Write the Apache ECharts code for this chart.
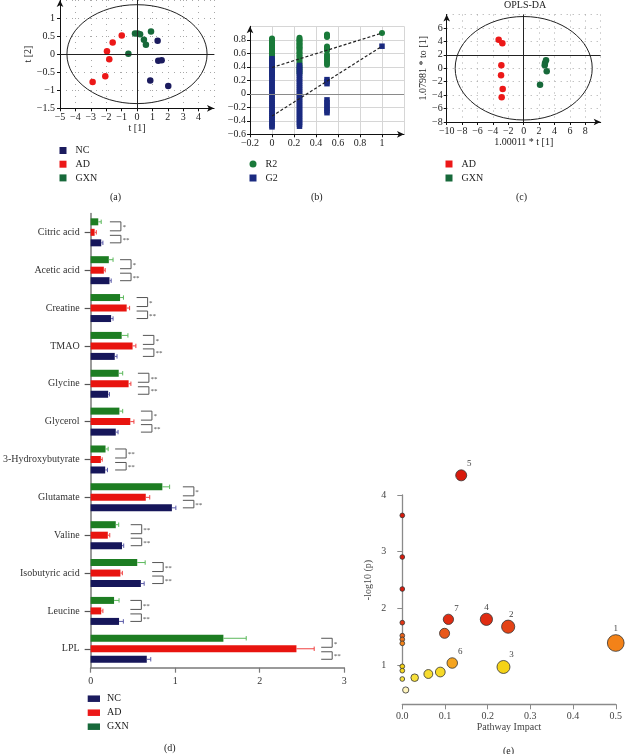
<!DOCTYPE html>
<html><head><meta charset="utf-8">
<script src="https://cdn.jsdelivr.net/npm/echarts@6/dist/echarts.min.js"></script>
<style>html,body{margin:0;padding:0;background:#fff}#c{width:625px;height:754px}</style>
</head><body><div id="c"></div>
<script>
// ---------- (a) PCA score plot ----------
const pcaNC  = [[1.34,0.37],[1.38,-0.18],[1.60,-0.17],[0.86,-0.73],[2.03,-0.88]];
const pcaAD  = [[-0.99,0.52],[-1.58,0.32],[-1.95,0.08],[-1.80,-0.14],[-2.06,-0.61],[-2.88,-0.77]];
const pcaGXN = [[-0.13,0.57],[0.05,0.57],[0.20,0.55],[0.91,0.63],[0.45,0.40],[0.58,0.26],[-0.56,0.01]];
const pcaEllipse = [0, 0, 4.55, 1.37];           // centre x, centre y, semi-axis x, semi-axis y

// ---------- (b) permutation test ----------
const permX = [0, 0.25, 0.5, 1];
const r2Perm = [
  [0.82,0.80,0.78,0.76,0.74,0.72,0.70,0.68,0.66,0.64,0.62,0.60,0.58,0.56,0.53,0.50,0.47,0.44,0.41,0.37,0.33,0.30,0.27],
  [0.83,0.81,0.79,0.77,0.75,0.73,0.71,0.69,0.67,0.65,0.62,0.60,0.57,0.55,0.52,0.49,0.46,0.43,0.40,0.37,0.34,0.31],
  [0.88,0.86,0.84,0.70,0.68,0.66,0.64,0.58,0.55,0.52,0.49,0.46,0.43],
  [0.90]
];
const q2Perm = [
  [0.52,0.49,0.46,0.43,0.40,0.37,0.34,0.31,0.28,0.25,0.22,0.19,0.16,0.13,0.10,0.07,0.04,0.01,-0.02,-0.05,-0.08,-0.11,-0.14,-0.17,-0.20,-0.23,-0.26,-0.29,-0.32,-0.35,-0.38,-0.41,-0.44,-0.47,-0.49],
  [0.42,0.39,0.36,0.33,0.30,0.27,0.24,0.21,0.18,0.15,0.12,0.09,0.06,0.03,0.00,-0.03,-0.06,-0.09,-0.12,-0.15,-0.18,-0.21,-0.24,-0.27,-0.30,-0.33,-0.36,-0.39,-0.42,-0.45,-0.48],
  [0.21,0.18,0.15,-0.09,-0.13,-0.17,-0.21,-0.25,-0.28],
  [0.705]
];
const r2Fit = [[0, 0.39], [1, 0.90]];
const q2Fit = [[0, -0.33], [1, 0.705]];

// ---------- (c) OPLS-DA ----------
const oplsAD  = [[-3.25,4.26],[-2.77,3.72],[-2.90,0.45],[-2.94,-1.05],[-2.73,-3.10],[-2.86,-4.33]];
const oplsGXN = [[2.90,1.19],[2.77,0.80],[2.73,0.45],[2.99,-0.45],[2.12,-2.47]];
const oplsEllipse = [0, 0, 8.9, 7.7];
const oplsHLine = 2;

// ---------- (d) metabolite levels ----------
const metabolites = ['Citric acid','Acetic acid','Creatine','TMAO','Glycine','Glycerol','3-Hydroxybutyrate','Glutamate','Valine','Isobutyric acid','Leucine','LPL'];
const ncMean  = [0.125,0.223,0.242,0.285,0.207,0.297,0.172,0.961,0.371,0.594,0.336,0.664];
const ncErr   = [0.020,0.020,0.023,0.027,0.016,0.027,0.027,0.047,0.020,0.039,0.051,0.047];
const adMean  = [0.047,0.156,0.426,0.496,0.449,0.469,0.121,0.652,0.203,0.352,0.125,2.434];
const adErr   = [0.020,0.016,0.035,0.039,0.027,0.043,0.016,0.047,0.023,0.023,0.020,0.210];
const gxnMean = [0.090,0.215,0.348,0.367,0.332,0.340,0.176,0.848,0.297,0.551,0.277,1.570];
const gxnErr  = [0.035,0.050,0.040,0.074,0.047,0.039,0.031,0.086,0.035,0.094,0.059,0.270];
const sigGxnAd = ['*','*','*','*','**','*','**','*','**','**','**','*'];
const sigAdNc  = ['**','**','**','**','**','**','**','**','**','**','**','**'];

// ---------- (e) pathway analysis ----------
const impact = [0.138,0,0,0,0,0,0,0,0,0,0,0.008,0.029,0.061,0.089,0.117,0.099,0.108,0.197,0.248,0.237,0.5];
const logP   = [4.347,3.64,2.906,2.341,1.747,1.518,1.453,1.382,0.976,0.90,0.753,0.559,0.776,0.841,0.876,1.035,1.559,1.806,1.806,1.676,0.965,1.388];
const pathLabel = ['5','','','','','','','','','','','','','','','6','','7','4','2','3','1'];

// ---------- styling ----------
const serif = 'Liberation Serif';
const NAVY = '#1b1b5e', RED = '#ec1818', GREEN = '#17693a';
const BNAVY = '#16165a', BRED = '#e8140f', BGREEN = '#1d7d22';
const ENAVY = '#5a5aa8', ERED = '#f04040', EGREEN = '#5cb85c';
const minus = v => String(+(+v).toFixed(2)).replace('-', '\u2212');

function sciAxis(gi, min, max, interval, extra) {
  return Object.assign({
    gridIndex: gi, type: 'value', min, max, interval,
    axisLine: { show: true, onZero: false, lineStyle: { color: '#111', width: 1 }, symbol: ['none', 'arrow'], symbolSize: [5, 7] },
    axisTick: { show: true, length: 3, lineStyle: { color: '#111' } },
    axisLabel: { fontSize: 10, fontFamily: serif, color: '#222', formatter: minus, showMaxLabel: false, margin: 4 },
    splitLine: { show: true, lineStyle: { color: '#a8a8a8', type: [1, 5], width: 1 } },
    nameTextStyle: { fontSize: 10, fontFamily: serif, color: '#222' }
  }, extra || {});
}

function ellipseSeries(gi, e) {
  return {
    type: 'custom', xAxisIndex: gi, yAxisIndex: gi, data: [e], silent: true, z: 2, clip: false,
    renderItem: (p, api) => {
      const c = api.coord([api.value(0), api.value(1)]);
      const s = api.size([api.value(2), api.value(3)]);
      return { type: 'ellipse', shape: { cx: c[0], cy: c[1], rx: s[0], ry: s[1] }, style: { fill: 'none', stroke: '#222', lineWidth: 1 } };
    }
  };
}
function crossLines(xv, yv) {
  return { silent: true, symbol: 'none', animation: false, label: { show: false },
    lineStyle: { color: '#222', type: 'solid', width: 1 }, emphasis: { disabled: true },
    data: [{ xAxis: xv }, { yAxis: yv }] };
}

// (d) bar offsets (px) inside the category band
const BAR_W = 7, BAR_STEP = 10.5;
const offGXN = -BAR_STEP, offAD = 0, offNC = BAR_STEP;
function errSeries(mean, err, off, col) {
  return {
    type: 'custom', xAxisIndex: 3, yAxisIndex: 3, silent: true, z: 4,
    data: mean.map((m, i) => [m, i, err[i]]), encode: { x: 0, y: 1 },
    renderItem: (p, api) => {
      const v = api.value(0), ci = api.value(1), e = api.value(2);
      const a = api.coord([v, ci]), b = api.coord([v + e, ci]);
      const y = a[1] + off;
      return { type: 'group', children: [
        { type: 'line', shape: { x1: a[0], y1: y, x2: b[0], y2: y }, style: { stroke: col, lineWidth: 1 } },
        { type: 'line', shape: { x1: b[0], y1: y - 2.2, x2: b[0], y2: y + 2.2 }, style: { stroke: col, lineWidth: 1 } }
      ] };
    }
  };
}
const maxEnd = metabolites.map((_, i) => Math.max(ncMean[i] + ncErr[i], adMean[i] + adErr[i], gxnMean[i] + gxnErr[i]));

function heat(y) {
  const stops = [[0.55,[255,246,196]],[0.75,[248,226,64]],[0.98,[245,210,20]],[1.04,[245,160,32]],[1.39,[243,130,24]],[1.56,[232,88,26]],[1.8,[224,44,18]],[2.3,[216,26,12]],[5,[216,26,12]]];
  if (y <= stops[0][0]) return 'rgb(' + stops[0][1].join(',') + ')';
  for (let k = 1; k < stops.length; k++) {
    if (y <= stops[k][0]) {
      const t = (y - stops[k-1][0]) / (stops[k][0] - stops[k-1][0]);
      const c = stops[k-1][1].map((v, j) => Math.round(v + t * (stops[k][1][j] - v)));
      return 'rgb(' + c.join(',') + ')';
    }
  }
  return 'rgb(216,26,12)';
}
const labelDx = { '1': 0, '2': 3, '3': 8, '4': 0, '5': 8, '6': 8, '7': 8 };

const chart = echarts.init(document.getElementById('c'), null, { renderer: 'canvas', width: 625, height: 754 });

const option = {
  animation: false,
  backgroundColor: '#fff',
  textStyle: { fontFamily: serif },
  grid: [
    { left: 60, top: -1, width: 154, height: 109.3 },
    { left: 250, top: 26.3, width: 154, height: 108 },
    { left: 446.7, top: 14.5, width: 154, height: 107.5 },
    { left: 87.7, top: 213.4, width: 256.6, height: 454.3 },
    { left: 402.3, top: 495, width: 214.4, height: 170 }
  ],
  xAxis: [
    sciAxis(0, -5, 5, 1, { name: 't [1]', nameLocation: 'middle', nameGap: 14 }),
    sciAxis(1, -0.2, 1.2, 0.2, { splitLine: { show: true, lineStyle: { color: '#d6d6d6', width: 1 } } }),
    sciAxis(2, -10, 10, 2, { name: '1.00011 * t [1]', nameLocation: 'middle', nameGap: 13.5 }),
    { gridIndex: 3, type: 'value', min: 0, max: 3, interval: 1,
      axisLine: { show: true, lineStyle: { color: '#7a7a7a', width: 1.5 } },
      axisTick: { show: true, length: 5, lineStyle: { color: '#7a7a7a', width: 1.2 } },
      axisLabel: { fontSize: 10, fontFamily: serif, color: '#333', margin: 9 },
      splitLine: { show: false } },
    { gridIndex: 4, type: 'value', min: 0, max: 0.5, interval: 0.1, offset: 39.3,
      axisLine: { show: true, lineStyle: { color: '#8a8a8a', width: 1.3 } },
      axisTick: { show: true, length: 5, lineStyle: { color: '#8a8a8a' } },
      axisLabel: { fontSize: 10, fontFamily: serif, color: '#444', margin: 7, formatter: v => v.toFixed(1) },
      splitLine: { show: false },
      name: 'Pathway Impact', nameLocation: 'middle', nameGap: 18,
      nameTextStyle: { fontSize: 10, fontFamily: serif, color: '#444' } }
  ],
  yAxis: [
    sciAxis(0, -1.5, 1.5, 0.5, { name: 't [2]', nameLocation: 'middle', nameGap: 23, axisLabel: { fontSize: 10, fontFamily: serif, color: '#222', formatter: minus, showMaxLabel: false, margin: 5 } }),
    sciAxis(1, -0.6, 1.0, 0.2, { splitLine: { show: true, lineStyle: { color: '#d6d6d6', width: 1 } } }),
    sciAxis(2, -8, 8, 2, { name: '1.07981 * to [1]', nameLocation: 'middle', nameGap: 18 }),
    { gridIndex: 3, type: 'category', data: metabolites, inverse: true,
      axisLine: { show: true, lineStyle: { color: '#7a7a7a', width: 1.5 } },
      axisTick: { show: true, alignWithLabel: true, length: 6, lineStyle: { color: '#555', width: 1.2 } },
      axisLabel: { fontSize: 10, fontFamily: serif, color: '#333', margin: 11 } },
    { gridIndex: 4, type: 'value', min: 1, max: 4, interval: 1, offset: 9,
      axisLine: { show: true, lineStyle: { color: '#8a8a8a', width: 1.3 } },
      axisTick: { show: true, length: 5, lineStyle: { color: '#8a8a8a' } },
      axisLabel: { fontSize: 10, fontFamily: serif, color: '#444', margin: 7 },
      splitLine: { show: false },
      name: '-log10 (p)', nameLocation: 'middle', nameGap: 20,
      nameTextStyle: { fontSize: 10, fontFamily: serif, color: '#444' } }
  ],
  legend: [
    { data: [{ name: 'NC', icon: 'rect' }, { name: 'AD', icon: 'rect' }, { name: 'GXN', icon: 'rect' }],
      orient: 'vertical', left: 59.5, top: 145.5, itemWidth: 7, itemHeight: 7, itemGap: 3.7, padding: 0, selectedMode: false,
      textStyle: { fontSize: 10, lineHeight: 10, fontFamily: serif, color: '#222', padding: [0, 0, 0, 4] } },
    { data: [{ name: 'R2', icon: 'circle' }, { name: 'G2', icon: 'rect' }],
      orient: 'vertical', left: 249.5, top: 159, itemWidth: 7, itemHeight: 7, itemGap: 4, padding: 0, selectedMode: false,
      textStyle: { fontSize: 10, lineHeight: 10, fontFamily: serif, color: '#222', padding: [0, 0, 0, 4] } },
    { data: [{ name: 'AD', icon: 'rect' }, { name: 'GXN', icon: 'rect' }],
      orient: 'vertical', left: 445.5, top: 159, itemWidth: 7, itemHeight: 7, itemGap: 4, padding: 0, selectedMode: false,
      textStyle: { fontSize: 10, lineHeight: 10, fontFamily: serif, color: '#222', padding: [0, 0, 0, 4] } },
    { data: [{ name: 'NC', icon: 'rect' }, { name: 'AD', icon: 'rect' }, { name: 'GXN', icon: 'rect' }],
      orient: 'vertical', left: 87.7, top: 693.7, itemWidth: 12.3, itemHeight: 6.5, itemGap: 4, padding: 0, selectedMode: false,
      textStyle: { fontSize: 10, lineHeight: 10, fontFamily: serif, color: '#222', padding: [0, 0, 0, 2] } }
  ],
  graphic: [
    { type: 'text', left: 110, top: 192, style: { text: '(a)', fontSize: 10, fontFamily: serif, fill: '#222' } },
    { type: 'text', left: 311, top: 192, style: { text: '(b)', fontSize: 10, fontFamily: serif, fill: '#222' } },
    { type: 'text', left: 516, top: 192, style: { text: '(c)', fontSize: 10, fontFamily: serif, fill: '#222' } },
    { type: 'text', left: 164, top: 743, style: { text: '(d)', fontSize: 10, fontFamily: serif, fill: '#222' } },
    { type: 'text', left: 503, top: 746, style: { text: '(e)', fontSize: 10, fontFamily: serif, fill: '#222' } },
    { type: 'text', left: 504, top: 0, style: { text: 'OPLS-DA', fontSize: 10, fontFamily: serif, fill: '#222' } }
  ],
  series: [
    // (a)
    ellipseSeries(0, pcaEllipse),
    { type: 'scatter', name: 'NC', xAxisIndex: 0, yAxisIndex: 0, data: pcaNC, symbolSize: 6.5, itemStyle: { color: NAVY, opacity: 1 }, z: 3,
      markLine: crossLines(0, 0) },
    { type: 'scatter', name: 'AD', xAxisIndex: 0, yAxisIndex: 0, data: pcaAD, symbolSize: 6.5, itemStyle: { color: RED, opacity: 1 }, z: 3 },
    { type: 'scatter', name: 'GXN', xAxisIndex: 0, yAxisIndex: 0, data: pcaGXN, symbolSize: 6.5, itemStyle: { color: GREEN, opacity: 1 }, z: 3 },
    // (b)
    { type: 'scatter', name: 'R2', xAxisIndex: 1, yAxisIndex: 1, symbol: 'circle', symbolSize: 6,
      data: permX.flatMap((x, k) => r2Perm[k].map(v => [x, v])), itemStyle: { color: '#1a7a3a', opacity: 1 }, z: 3,
      markLine: { silent: true, symbol: 'none', label: { show: false }, lineStyle: { color: '#8a8a8a', type: 'solid', width: 1.2 }, data: [{ yAxis: 0 }] } },
    { type: 'scatter', name: 'G2', xAxisIndex: 1, yAxisIndex: 1, symbol: 'rect', symbolSize: 5.5,
      data: permX.flatMap((x, k) => q2Perm[k].map(v => [x, v])), itemStyle: { color: '#1a2a80', opacity: 1 }, z: 4 },
    { type: 'line', xAxisIndex: 1, yAxisIndex: 1, data: r2Fit, symbol: 'none', silent: true, z: 6,
      lineStyle: { color: '#222', width: 1.2, type: [3, 2] } },
    { type: 'line', xAxisIndex: 1, yAxisIndex: 1, data: q2Fit, symbol: 'none', silent: true, z: 6,
      lineStyle: { color: '#222', width: 1.2, type: [3, 2] } },
    // (c)
    ellipseSeries(2, oplsEllipse),
    { type: 'scatter', name: 'AD', xAxisIndex: 2, yAxisIndex: 2, data: oplsAD, symbolSize: 6.5, itemStyle: { color: RED, opacity: 1 }, z: 3,
      markLine: crossLines(0, oplsHLine) },
    { type: 'scatter', name: 'GXN', xAxisIndex: 2, yAxisIndex: 2, data: oplsGXN, symbolSize: 6.5, itemStyle: { color: GREEN, opacity: 1 }, z: 3 },
    // (d)  (series order GXN, AD, NC puts GXN on top of each group)
    { type: 'bar', name: 'GXN', xAxisIndex: 3, yAxisIndex: 3, data: gxnMean, barWidth: BAR_W, barGap: '50%', itemStyle: { color: BGREEN } },
    { type: 'bar', name: 'AD', xAxisIndex: 3, yAxisIndex: 3, data: adMean, barWidth: BAR_W, barGap: '50%', itemStyle: { color: BRED } },
    { type: 'bar', name: 'NC', xAxisIndex: 3, yAxisIndex: 3, data: ncMean, barWidth: BAR_W, barGap: '50%', itemStyle: { color: BNAVY } },
    errSeries(ncMean, ncErr, offNC, ENAVY),
    errSeries(adMean, adErr, offAD, ERED),
    errSeries(gxnMean, gxnErr, offGXN, EGREEN),
    { type: 'custom', xAxisIndex: 3, yAxisIndex: 3, silent: true, z: 5, clip: false,
      data: maxEnd.map((m, i) => [m, i]), encode: { x: 0, y: 1 },
      renderItem: (p, api) => {
        const m = api.value(0), i = api.value(1);
        const c = api.coord([m, i]);
        const x0 = c[0] + 7, x1 = x0 + 11, yc = c[1];
        const br = (ya, yb, txt) => [
          { type: 'polyline', shape: { points: [[x0, ya], [x1, ya], [x1, yb], [x0, yb]] }, style: { fill: null, stroke: '#555', lineWidth: 1 } },
          { type: 'text', style: { text: txt, x: x1 + 1.5, y: (ya + yb) / 2 + 1, fontSize: 7, fontFamily: serif, fill: '#444', verticalAlign: 'middle', align: 'left' } }
        ];
        return { type: 'group', children: br(yc + offGXN, yc - 1.5, sigGxnAd[i]).concat(br(yc + 3, yc + offNC, sigAdNc[i])) };
      } },
    // (e)
    { type: 'scatter', xAxisIndex: 4, yAxisIndex: 4, clip: false, z: 3,
      data: impact.map((x, i) => ({
        value: [x, logP[i]],
        label: pathLabel[i] ? { show: true, formatter: pathLabel[i], position: 'top', distance: 1, offset: [labelDx[pathLabel[i]], 0],
          fontSize: 9, fontFamily: serif, color: '#444' } : { show: false }
      })),
      symbolSize: v => 4.7 + 17 * Math.sqrt(v[0]),
      itemStyle: { color: p => heat(p.value[1]), borderColor: '#333', borderWidth: 0.8, opacity: 1 } }
  ]
};
chart.setOption(option);
</script></body></html>
